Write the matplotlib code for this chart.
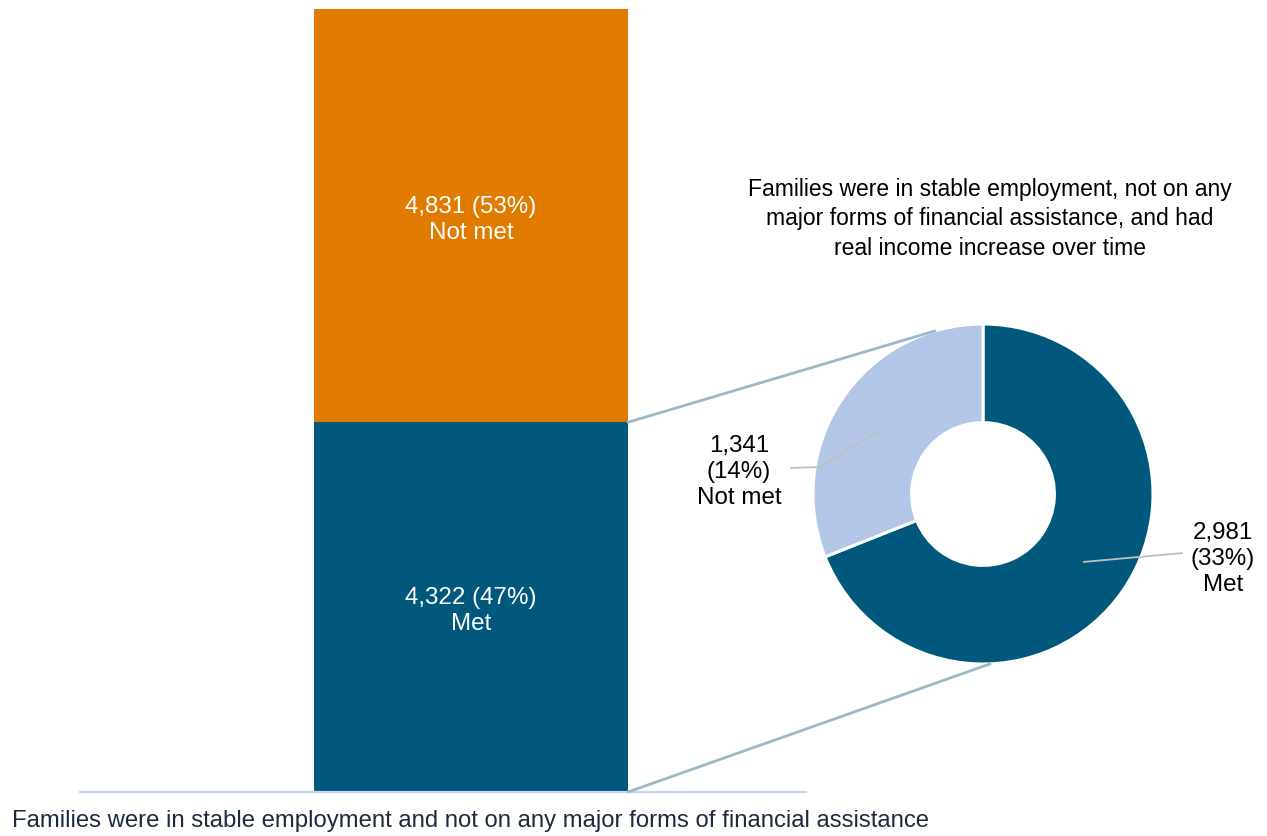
import matplotlib
matplotlib.use("Agg")
import matplotlib.pyplot as plt
from matplotlib.patches import ConnectionPatch
from matplotlib.transforms import offset_copy
import numpy as np

plt.rcParams["font.family"] = ["Liberation Sans", "DejaVu Sans"]

# Stacked bar: all families in stable employment, no major financial assistance
bar_labels = ["Met", "Not met"]
bar_counts = [4322, 4831]
bar_pcts = [47, 53]

# Donut: of those, families that also had real income increase over time
donut_labels = ["Met", "Not met"]
donut_counts = [2981, 1341]
donut_pcts = [33, 14]

bar_title = "Families were in stable employment and not on any major forms of financial assistance"
donut_title = ("Families were in stable employment, not on any\n"
               "major forms of financial assistance, and had\n"
               "real income increase over time")

C_MET = "#00587c"
C_NOTMET = "#e07b00"
C_LIGHT = "#b4c6e7"
C_CONN = "#9cb9c9"
C_LEADER = "#bfbfbf"
C_BASE = "#c9d7ee"
FS_LABEL = 17.4
FS_TITLE = 16.5
FS_BOTTOM = 17.2

W, H = 1267, 836
fig = plt.figure(figsize=(W / 100, H / 100), dpi=100)


def px_rect(x0, y0, x1, y1):
    """Figure-fraction rectangle from pixel corners (top-left origin)."""
    return [x0 / W, 1 - y1 / H, (x1 - x0) / W, (y1 - y0) / H]


# ---- stacked bar ----
ax = fig.add_axes(px_rect(80, 9, 806, 792))
lab_tr = offset_copy(ax.transData, fig=fig, x=0, y=-4, units="dots")
bottom = 0
bar_colors = [C_MET, C_NOTMET]
for lab, cnt, pct, col in zip(bar_labels, bar_counts, bar_pcts, bar_colors):
    ax.bar(0, cnt, width=1.0, bottom=bottom, color=col, linewidth=0)
    ax.text(0, bottom + cnt / 2, f"{cnt:,} ({pct}%)\n{lab}", color="white",
            ha="center", va="center", fontsize=FS_LABEL, linespacing=1.25,
            transform=lab_tr)
    bottom += cnt
total = sum(bar_counts)
ax.set_xlim(-0.5 - 234 / 314, 0.5 + 178 / 314)
ax.set_ylim(0, total)
for s in ["top", "right", "left"]:
    ax.spines[s].set_visible(False)
ax.spines["bottom"].set_color(C_BASE)
ax.spines["bottom"].set_linewidth(1.6)
ax.set_xticks([])
ax.set_yticks([])
ax.patch.set_alpha(0)

fig.text(12 / W, 1 - 821 / H, bar_title, ha="left", va="center",
         fontsize=FS_BOTTOM, color="#1e2a40")

# ---- donut ----
R = 170
cx, cy = 983, 494
axp = fig.add_axes(px_rect(cx - R, cy - R, cx + R, cy + R))
axp.pie(donut_counts, colors=[C_MET, C_LIGHT], startangle=90, counterclock=False,
        radius=1.0, wedgeprops=dict(width=0.58, edgecolor="white", linewidth=2.2))
axp.set_xlim(-1, 1)
axp.set_ylim(-1, 1)
axp.set_aspect("equal")
axp.axis("off")
pie_lab_tr = offset_copy(axp.transData, fig=fig, x=0, y=-3, units="dots")

# leader lines and labels
axp.plot([0.588, 1.176], [-0.40, -0.347], color=C_LEADER, lw=1.3,
         clip_on=False, solid_capstyle="butt")
axp.text(1.41, -0.365, f"{donut_counts[0]:,}\n({donut_pcts[0]}%)\n{donut_labels[0]}",
         ha="center", va="center", fontsize=FS_LABEL, linespacing=1.25,
         color="black", transform=pie_lab_tr)
axp.plot([-0.576, -0.959, -1.135], [0.394, 0.159, 0.153], color=C_LEADER, lw=1.3,
         clip_on=False, solid_capstyle="butt")
axp.text(-1.435, 0.147, f"{donut_counts[1]:,}\n({donut_pcts[1]}%)\n{donut_labels[1]}",
         ha="center", va="center", fontsize=FS_LABEL, linespacing=1.25,
         color="black", transform=pie_lab_tr)

fig.text(990 / W, 1 - 219 / H, donut_title, ha="center", va="center",
         fontsize=FS_TITLE, linespacing=1.35, color="black")

# connectors from the "Met" bar segment to the donut
a_top = np.deg2rad(106.4)
a_bot = np.deg2rad(-87.6)
for ybar, ang in [(bar_counts[0], a_top), (0, a_bot)]:
    con = ConnectionPatch(xyA=(0.5, ybar), coordsA=ax.transData,
                          xyB=(np.cos(ang), np.sin(ang)), coordsB=axp.transData,
                          color=C_CONN, lw=2.0)
    fig.add_artist(con)

fig.savefig("out.png", dpi=100)
